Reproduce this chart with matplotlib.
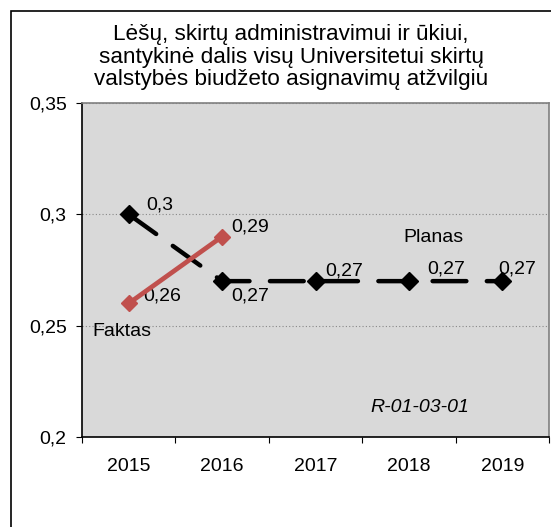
import matplotlib
matplotlib.use("Agg")
import matplotlib.pyplot as plt
from matplotlib.patches import Rectangle

plt.rcParams['font.family'] = ['Liberation Sans', 'DejaVu Sans']

years = ['2015', '2016', '2017', '2018', '2019']
planas = [0.30, 0.27, 0.27, 0.27, 0.27]
faktas = [0.26, 0.29]
planas_labels = ['0,3', '0,27', '0,27', '0,27', '0,27']
faktas_labels = ['0,26', '0,29']
yticks = [0.2, 0.25, 0.3, 0.35]
ytick_labels = ['0,2', '0,25', '0,3', '0,35']
title = "Lėšų, skirtų administravimui ir ūkiui,\nsantykinė dalis visų Universitetui skirtų\nvalstybės biudžeto asignavimų atžvilgiu"

W, H = 551, 527
PX = 0.72  # points per pixel at 100 dpi
fig = plt.figure(figsize=(W/100, H/100), dpi=100)
ax = fig.add_axes([82/W, 1-437/H, (549-82)/W, (437-103)/H])

# outer chart frame
fig.patches.append(Rectangle((11/W, -0.1), 1.2, 1-11/H+0.1, transform=fig.transFigure,
                             fill=False, edgecolor='black', linewidth=1.2, zorder=0))

ax.set_facecolor('#d9d9d9')
x = list(range(len(years)))
ax.set_xlim(-0.5, len(years)-0.5)
ax.set_ylim(0.2, 0.35)

ax.plot(x, planas, color='black', linewidth=3.2, linestyle=(0, (7.6, 4.6)),
        dash_capstyle='round', marker='D', markersize=9, markerfacecolor='black',
        markeredgecolor='black', zorder=3)
ax.plot(x[:len(faktas)], faktas, color='#c0504d', linewidth=3.4, marker='D',
        markersize=8.5, zorder=4)

offsets_p = [(18, 9), (9, -15), (10, 10), (18, 12), (-4, 12)]
for xi, yi, lab, (dx, dy) in zip(x, planas, planas_labels, offsets_p):
    ax.annotate(lab, (xi, yi), xytext=(dx*PX, dy*PX), textcoords='offset points',
                fontsize=14, ha='left', va='center')
offsets_f = [(15, 7), (9, 10)]
for xi, yi, lab, (dx, dy) in zip(x, faktas, faktas_labels, offsets_f):
    ax.annotate(lab, (xi, yi), xytext=(dx*PX, dy*PX), textcoords='offset points',
                fontsize=14, ha='left', va='center')

ax.text((433-82)/467, (437-238)/334, 'Planas', fontsize=14, ha='center', va='center',
        transform=ax.transAxes)
ax.text((122-82)/467, (437-332)/334, 'Faktas', fontsize=14, ha='center', va='center',
        transform=ax.transAxes)
ax.text((420-82)/467, (437-408)/334, 'R-01-03-01', fontsize=14, ha='center', va='center',
        style='italic', transform=ax.transAxes)

ax.set_yticks(yticks)
ax.set_yticklabels(ytick_labels, fontsize=14)
ax.set_xticks([i - 0.5 for i in range(len(years)+1)])
ax.set_xticklabels([])
ax.set_xticks(x, minor=True)
ax.set_xticklabels(years, minor=True, fontsize=14)
ax.tick_params(axis='x', which='minor', length=0, pad=15)
ax.tick_params(axis='x', which='major', length=4.5, direction='out')
ax.tick_params(axis='y', length=4.5, direction='out', pad=6.5)
ax.grid(axis='y', color='#888888', linestyle=(0, (1, 2)), linewidth=0.8)
ax.set_axisbelow(True)
for s in ['top', 'right']:
    ax.spines[s].set_color('#808080')
    ax.spines[s].set_linewidth(1.2)
for s in ['left', 'bottom']:
    ax.spines[s].set_color('black')
    ax.spines[s].set_linewidth(1.2)

fig.text(291/W, 1-57/H, title, fontsize=16.2, ha='center', va='center', linespacing=1.08)

fig.savefig('out.png', dpi=100)
